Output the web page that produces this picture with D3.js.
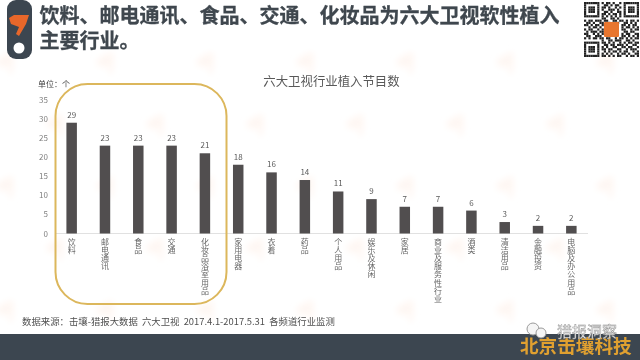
<!DOCTYPE html>
<meta charset="utf-8">
<style>
body { margin: 0; background: #fff; }
svg { opacity: 0.999; }
text { font-family: "Noto Sans CJK SC", sans-serif; white-space: pre; }
.axis .domain { display: none; }
.axis line { display: none; }
</style>
<svg width="640" height="360"></svg>
<script src="https://cdn.jsdelivr.net/npm/d3@7/dist/d3.min.js"></script>
<script>

var categories = ["饮料", "邮电通讯", "食品", "交通", "化妆品浴室用品", "家用电器", "衣着", "药品",
    "个人用品", "娱乐及休闲", "家居", "商业及服务性行业", "酒类", "清洁用品", "金融投资", "电脑及办公用品"];
var values = [29, 23, 23, 23, 21, 18, 16, 14, 11, 9, 7, 7, 6, 3, 2, 2];
var yTicks = [0, 5, 10, 15, 20, 25, 30, 35];
var titleLines = ["饮料、邮电通讯、食品、交通、化妆品为六大卫视软性植入", "主要行业。"];
var chartTitle = "六大卫视行业植入节目数";
var unitLabel = "单位：个";
var sourceText = "数据来源：击壤-猎报大数据  六大卫视  2017.4.1-2017.5.31  各频道行业监测";
var qrRows = [
    "1111111010110100101111111",
    "1000001001101011001000001",
    "1011101011010010101011101",
    "1011101010011101001011101",
    "1011101001101001101011101",
    "1000001011010110101000001",
    "1111111010101010101111111",
    "0000000011001101000000000",
    "1011011101100110110101101",
    "0110100110010101001101010",
    "1101011010000000011010110",
    "0010110100000000010110101",
    "1011001010000000011001011",
    "0101110110000000001101100",
    "1100101010000000010110011",
    "0110011100000000011010101",
    "1010110110110010110101011",
    "0000000010011011100110100",
    "1111111011010100101011011",
    "1000001001101101110100110",
    "1011101010100110011011001",
    "1011101011011001100101110",
    "1011101001010110101100101",
    "1000001010101001011010011",
    "1111111011010101100101101"
];

var svg = d3.select("svg"),
    margin = {top: 99.8, left: 55, right: 52, bottom: 126.5},
    width = +svg.attr("width") - margin.left - margin.right,
    height = +svg.attr("height") - margin.top - margin.bottom,
    g = svg.append("g").attr("transform", "translate(" + margin.left + "," + margin.top + ")");

var x = d3.scaleBand().domain(categories).range([0, width]).paddingInner(0.685).paddingOuter(0.3425);
var y = d3.scaleLinear().domain([0, 35]).range([height, 0]);

var foxPath = "M9 18 L14 15 L29 15 L26 24 L19 36 L16 34 L19 27 L11 24 Z";

// faint background marks
var defs = svg.append("defs");
defs.append("filter").attr("id", "soft").append("feGaussianBlur").attr("stdDeviation", 3);
var bg = svg.insert("g", ":first-child").attr("filter", "url(#soft)");
d3.range(0, 5).forEach(function(r) {
    d3.range(0, 7).forEach(function(c) {
        bg.append("path").attr("d", foxPath)
            .attr("transform", "translate(" + (c * 100 + (r % 2) * 50 - 20) + "," + (r * 62 + 50) + ") rotate(-25)")
            .attr("fill", "#fef7f3");
    });
});

// footer band
svg.append("rect").attr("x", 0).attr("y", 334).attr("width", 640).attr("height", 26).attr("fill", "#3c4650");

// logo
svg.append("rect").attr("x", 7).attr("y", 0).attr("width", 25).attr("height", 59).attr("rx", 9).attr("fill", "#3c4650");
svg.append("path").attr("d", foxPath).attr("fill", "#e8672a");
svg.append("circle").attr("cx", 19).attr("cy", 48).attr("r", 5.5).attr("fill", "#fff");

// title
svg.append("g").selectAll("text").data(titleLines).enter().append("text")
    .attr("x", 39.5)
    .attr("y", function(d, i) { return 23 + i * 25; })
    .attr("font-size", 20)
    .attr("font-weight", "bold")
    .attr("fill", "#3f474e")
    .attr("stroke", "#3f474e")
    .attr("stroke-width", 0.3)
    .text(function(d) { return d; });

// qr code
var cell = 55 / 25;
var qr = svg.append("g").attr("transform", "translate(584,2)");
qrRows.forEach(function(row, r) {
    row.split("").forEach(function(c, k) {
        if (c === "1") qr.append("rect").attr("x", k * cell).attr("y", r * cell)
            .attr("width", cell).attr("height", cell).attr("fill", "#222");
    });
});
qr.append("rect").attr("x", 20).attr("y", 20).attr("width", 15).attr("height", 15).attr("rx", 1).attr("fill", "#e8762f");

svg.append("text").attr("x", 331.5).attr("y", 86).attr("text-anchor", "middle")
    .attr("font-size", 12.4).attr("fill", "#595959").text(chartTitle);

svg.append("text").attr("x", 38).attr("y", 87).attr("font-size", 8).attr("fill", "#404040").text(unitLabel);

// y axis
var yAxis = g.append("g").attr("class", "axis")
    .call(d3.axisLeft(y).tickValues(yTicks).tickSize(0).tickPadding(7));
yAxis.selectAll("text").attr("font-size", 8).attr("fill", "#7f7f7f");

// baseline
g.append("line").attr("x1", 0).attr("x2", width).attr("y1", y(0)).attr("y2", y(0))
    .attr("stroke", "#d9d9d9").attr("stroke-width", 0.8);

// bars
g.selectAll(".bar").data(values).enter().append("rect")
    .attr("class", "bar")
    .attr("x", function(d, i) { return x(categories[i]); })
    .attr("y", function(d) { return y(d); })
    .attr("width", x.bandwidth())
    .attr("height", function(d) { return y(0) - y(d); })
    .attr("fill", "#514e4f");

// value labels
g.selectAll(".val").data(values).enter().append("text")
    .attr("class", "val")
    .attr("x", function(d, i) { return x(categories[i]) + x.bandwidth() / 2; })
    .attr("y", function(d) { return y(d) - 5; })
    .attr("text-anchor", "middle")
    .attr("font-size", 8)
    .attr("fill", "#595959")
    .text(function(d) { return d; });

// category labels, one character per line
var xAxis = g.append("g").attr("class", "axis")
    .attr("transform", "translate(0," + height + ")")
    .call(d3.axisBottom(x).tickSize(0).tickFormat(""));
xAxis.selectAll(".tick").append("text")
    .attr("y", 11.5)
    .attr("font-size", 8)
    .attr("fill", "#666")
    .attr("text-anchor", "middle")
    .each(function(d) {
        var t = d3.select(this);
        d.split("").forEach(function(ch, i) {
            t.append("tspan").attr("x", 0).attr("dy", i ? 8.1 : 0).text(ch);
        });
    });

// highlight box
svg.append("rect").attr("x", 55.5).attr("y", 84).attr("width", 171).attr("height", 220).attr("rx", 32)
    .attr("fill", "none").attr("stroke", "#dcb75c").attr("stroke-width", 2);

// source
svg.append("text").attr("x", 22).attr("y", 325).attr("font-size", 9.4).attr("fill", "#505050").text(sourceText);

// footer text and watermark
svg.append("text").attr("x", 520).attr("y", 353).attr("font-size", 18.6).attr("font-weight", "bold")
    .attr("fill", "#e0a030").text("北京击壤科技");
svg.append("circle").attr("cx", 533).attr("cy", 329).attr("r", 6).attr("fill", "#f5f5f5").attr("stroke", "#999").attr("stroke-width", 1);
svg.append("circle").attr("cx", 541).attr("cy", 333).attr("r", 5).attr("fill", "#f5f5f5").attr("stroke", "#999").attr("stroke-width", 1);
svg.append("text").attr("x", 557).attr("y", 337).attr("font-size", 15).attr("fill", "#f0f0f0")
    .attr("stroke", "#8a8a8a").attr("stroke-width", 0.4).text("猎报洞察");

</script>
